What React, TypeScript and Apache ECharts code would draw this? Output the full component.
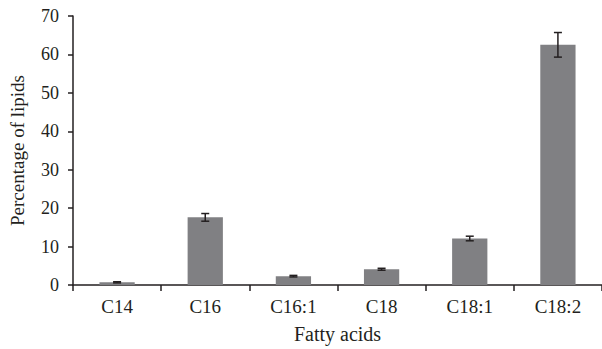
import React, { useEffect, useRef } from "react";
import * as echarts from "echarts";

const categories = ["C14", "C16", "C16:1", "C18", "C18:1", "C18:2"];
const values = [0.7, 17.6, 2.3, 4.1, 12.1, 62.5];
const errors = [0.15, 1.0, 0.2, 0.25, 0.6, 3.2];
const yTicks = { min: 0, max: 70, interval: 10 };

const FONT = "'Liberation Serif', 'DejaVu Serif', serif";
const INK = "#231f20";

export default function App() {
  const ref = useRef<HTMLDivElement>(null);
  useEffect(() => {
    document.body.style.margin = "0";
    const chart = echarts.init(ref.current!, null, { renderer: "svg" });
    chart.setOption({
      animation: false,
      backgroundColor: "#ffffff",
      grid: { left: 72, right: 0, top: 16, bottom: 62, containLabel: false },
      xAxis: {
        type: "category",
        data: categories,
        name: "Fatty acids",
        nameLocation: "middle",
        nameGap: 39,
        nameTextStyle: { fontFamily: FONT, fontSize: 20, color: INK },
        axisLine: { show: true, lineStyle: { color: INK, width: 1.5 } },
        axisTick: { show: true, length: 6, lineStyle: { color: INK, width: 1.5 } },
        axisLabel: { fontFamily: FONT, fontSize: 19, color: INK, margin: 12 },
      },
      yAxis: {
        type: "value",
        min: yTicks.min,
        max: yTicks.max,
        interval: yTicks.interval,
        name: "Percentage of lipids",
        nameLocation: "middle",
        nameGap: 46,
        nameTextStyle: { fontFamily: FONT, fontSize: 19, color: INK },
        axisLine: { show: true, lineStyle: { color: INK, width: 1.5 } },
        axisTick: { show: true, length: 5, lineStyle: { color: INK, width: 1.5 } },
        axisLabel: { fontFamily: FONT, fontSize: 18, color: INK, margin: 14 },
        splitLine: { show: false },
      },
      series: [
        {
          type: "bar",
          data: values,
          barWidth: "40%",
          itemStyle: { color: "#808083" },
        },
        {
          type: "custom",
          data: values.map((v, i) => [i, v - errors[i], v + errors[i]]),
          z: 10,
          renderItem: (params: any, api: any) => {
            const idx = api.value(0);
            const lo = api.coord([idx, api.value(1)]);
            const hi = api.coord([idx, api.value(2)]);
            const half = 4;
            const style = { stroke: INK, lineWidth: 1.5 };
            return {
              type: "group",
              children: [
                { type: "line", shape: { x1: lo[0], y1: lo[1], x2: hi[0], y2: hi[1] }, style },
                { type: "line", shape: { x1: hi[0] - half, y1: hi[1], x2: hi[0] + half, y2: hi[1] }, style },
                { type: "line", shape: { x1: lo[0] - half, y1: lo[1], x2: lo[0] + half, y2: lo[1] }, style },
              ],
            };
          },
        },
      ],
    });
    return () => chart.dispose();
  }, []);
  return <div ref={ref} style={{ width: 602, height: 349 }} />;
}
